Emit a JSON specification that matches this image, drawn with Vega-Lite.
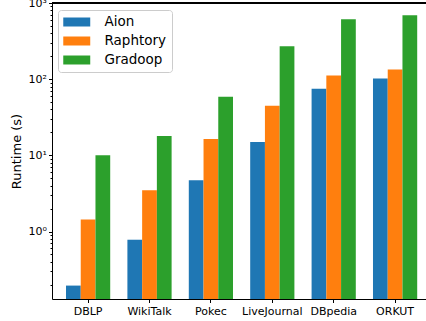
{
  "$schema": "https://vega.github.io/schema/vega-lite/v6.json",
  "width": 374,
  "height": 296,
  "autosize": {"type": "none"},
  "padding": {"left": 52, "top": 3, "right": 0, "bottom": 22},
  "config": {
    "font": "DejaVu Sans",
    "view": {"stroke": null},
    "axis": {
      "grid": false,
      "domainColor": "black",
      "domainWidth": 1,
      "tickColor": "black",
      "tickWidth": 1,
      "labelColor": "black",
      "labelFont": "DejaVu Sans",
      "labelFontSize": 11,
      "titleFont": "DejaVu Sans",
      "titleColor": "black",
      "titleFontWeight": "normal"
    }
  },
  "data": {
    "values": [
      {"dataset": "DBLP", "system": "Aion", "runtime": 0.195},
      {"dataset": "DBLP", "system": "Raphtory", "runtime": 1.44},
      {"dataset": "DBLP", "system": "Gradoop", "runtime": 10.0},
      {"dataset": "WikiTalk", "system": "Aion", "runtime": 0.78},
      {"dataset": "WikiTalk", "system": "Raphtory", "runtime": 3.48},
      {"dataset": "WikiTalk", "system": "Gradoop", "runtime": 18.0},
      {"dataset": "Pokec", "system": "Aion", "runtime": 4.72},
      {"dataset": "Pokec", "system": "Raphtory", "runtime": 16.4},
      {"dataset": "Pokec", "system": "Gradoop", "runtime": 58.9},
      {"dataset": "LiveJournal", "system": "Aion", "runtime": 15.0},
      {"dataset": "LiveJournal", "system": "Raphtory", "runtime": 44.8},
      {"dataset": "LiveJournal", "system": "Gradoop", "runtime": 270},
      {"dataset": "DBpedia", "system": "Aion", "runtime": 75},
      {"dataset": "DBpedia", "system": "Raphtory", "runtime": 112},
      {"dataset": "DBpedia", "system": "Gradoop", "runtime": 613},
      {"dataset": "ORKUT", "system": "Aion", "runtime": 102},
      {"dataset": "ORKUT", "system": "Raphtory", "runtime": 134},
      {"dataset": "ORKUT", "system": "Gradoop", "runtime": 692}
    ]
  },
  "layer": [
    {
      "mark": {"type": "bar"},
      "encoding": {
        "x": {
          "field": "dataset",
          "type": "nominal",
          "sort": ["DBLP", "WikiTalk", "Pokec", "LiveJournal", "DBpedia", "ORKUT"],
          "scale": {"paddingInner": 0.28, "paddingOuter": 0.1857, "align": 0.614},
          "axis": {"title": null, "labelAngle": 0, "tickSize": 3.5, "labelPadding": 2.5}
        },
        "xOffset": {
          "field": "system",
          "type": "nominal",
          "sort": ["Aion", "Raphtory", "Gradoop"]
        },
        "y": {
          "field": "runtime",
          "type": "quantitative",
          "scale": {"type": "log", "domain": [0.13, 1000], "nice": false},
          "axis": {
            "title": "Runtime (s)",
            "titleFontSize": 13,
            "titlePadding": 5,
            "labelPadding": 2,
            "values": [0.2, 0.3, 0.4, 0.5, 0.6, 0.7, 0.8, 0.9, 1, 2, 3, 4, 5, 6, 7, 8, 9, 10, 20, 30, 40, 50, 60, 70, 80, 90, 100, 200, 300, 400, 500, 600, 700, 800, 900, 1000],
            "labelExpr": "datum.value == 1 ? '10⁰' : datum.value == 10 ? '10¹' : datum.value == 100 ? '10²' : datum.value == 1000 ? '10³' : ''",
            "tickSize": {"condition": {"test": "datum.value == 1 || datum.value == 10 || datum.value == 100 || datum.value == 1000", "value": 3.5}, "value": 2}
          }
        },
        "y2": {"datum": 0.13},
        "color": {
          "field": "system",
          "type": "nominal",
          "scale": {"domain": ["Aion", "Raphtory", "Gradoop"], "range": ["#1f77b4", "#ff7f0e", "#2ca02c"]},
          "legend": {
            "title": null,
            "orient": "none",
            "legendX": 6,
            "legendY": 7,
            "padding": 5,
            "labelFontSize": 13.5,
            "labelColor": "black",
            "labelOffset": 27.5,
            "rowPadding": 5,
            "symbolType": "M-1,-0.667H3V0.667H-1Z",
            "symbolSize": 182,
            "symbolStrokeWidth": 0,
            "symbolOpacity": 1,
            "fillColor": "rgba(255,255,255,0.8)",
            "strokeColor": "#cccccc",
            "cornerRadius": 3
          }
        }
      }
    },
    {
      "mark": {"type": "rule", "color": "black", "strokeWidth": 1},
      "encoding": {"y": {"datum": 1000}}
    }
  ]
}
